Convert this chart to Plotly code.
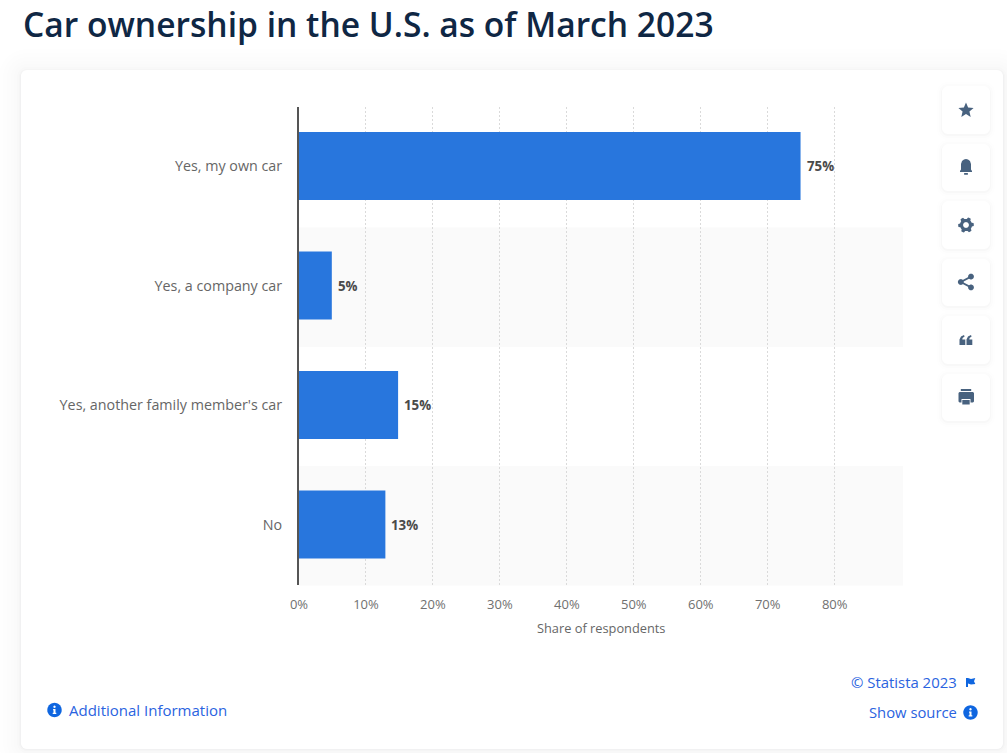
import math
import plotly.graph_objects as go

categories = ["Yes, my own car", "Yes, a company car", "Yes, another family member's car", "No"]
values = [74.9, 4.9, 14.8, 12.9]
value_labels = ["75%", "5%", "15%", "13%"]
tick_values = [0, 10, 20, 30, 40, 50, 60, 70, 80, 90.2]
tick_labels = ["0%", "10%", "20%", "30%", "40%", "50%", "60%", "70%", "80%", ""]

W, H = 1007, 753
L, R, T, B = 299, 903, 107, 585
FONT = "Open Sans"
ICON = "#48627f"
BLUE = "#0f66e0"
LINK = "#2a63e0"


def fx(x):
    return (x - L) / (R - L)


def fy(y):
    return (B - y) / (B - T)


def poly(pts):
    return "M" + " L".join(f"{fx(x):.5f},{fy(y):.5f}" for x, y in pts) + " Z"


def circle_pts(cx, cy, r, n=36):
    return [(cx + r * math.cos(2 * math.pi * i / n), cy + r * math.sin(2 * math.pi * i / n)) for i in range(n)]


def rrect_pts(x0, y0, x1, y1, r):
    pts = []
    corners = [(x1 - r, y0 + r, -90), (x1 - r, y1 - r, 0), (x0 + r, y1 - r, 90), (x0 + r, y0 + r, 180)]
    for cx, cy, a in corners:
        for k in range(7):
            t = math.radians(a + 15 * k)
            pts.append((cx + r * math.cos(t), cy + r * math.sin(t)))
    return pts


shapes = []


def add(path, color, opacity=1.0):
    shapes.append(dict(type="path", xref="paper", yref="paper", path=path, fillcolor=color, opacity=opacity,
                       layer="below", line=dict(width=0)))


def add_above(path, color):
    shapes.append(dict(type="path", xref="paper", yref="paper", path=path, fillcolor=color,
                       layer="above", line=dict(width=0)))


# card with soft shadow
for g, a in [(22, 0.006), (18, 0.006), (14, 0.007), (10, 0.008), (7, 0.009), (4, 0.010), (2, 0.014), (1, 0.02)]:
    add(poly(rrect_pts(21 - g, 70 - g + 1, 1003 + g, 749 + g, 6 + g)), "#44485a", a)
add(poly(rrect_pts(21, 70, 1003, 749, 6)), "#ffffff")

# alternating bands
for y0, y1 in [(227.5, 347), (466, 585.5)]:
    add(poly([(L, y0), (R, y0), (R, y1), (L, y1)]), "#fafafa")

# side buttons
buttons = [(86, 134), (144, 191), (201, 249), (259, 306), (316, 364), (374, 421)]
for y0, y1 in buttons:
    for g, a in [(5, 0.008), (3, 0.012), (1, 0.025)]:
        add(poly(rrect_pts(942 - g, y0 - g + 1, 990 + g, y1 + g + 1, 6 + g)), "#44485a", a)
    add(poly(rrect_pts(942, y0, 990, y1, 6)), "#ffffff")

# star
star = []
for i in range(10):
    r = 8 if i % 2 == 0 else 3.6
    t = math.radians(-90 + 36 * i)
    star.append((966 + r * math.cos(t), 110.5 + r * math.sin(t)))
add_above(poly(star), ICON)

# bell
bell = [(960, 172), (960, 171), (961, 169.5), (961, 164), (962, 161), (964, 159.5), (966, 159), (968, 159.5),
        (970, 161), (971, 164), (971, 169.5), (972, 171), (972, 172)]
add_above(poly(bell), ICON)
add_above(poly(rrect_pts(964, 173, 968, 174.8, 0.8)), ICON)

# gear
gear = []
for i in range(48):
    a = i / 48 * 2 * math.pi
    tooth = ((i + 2) % 8) < 4
    r = 7.8 if tooth else 6.1
    gear.append((966 + r * math.cos(a), 225 + r * math.sin(a)))
add_above(poly(gear) + " " + poly(circle_pts(966, 225, 2.9)), ICON)

# share
for c in [(960.8, 282), (971, 276.6), (971, 287.4)]:
    add_above(poly(circle_pts(c[0], c[1], 2.9)), ICON)
add_above(poly([(960.4, 281.2), (970.6, 275.8), (971.4, 277.4), (961.2, 282.8)]), ICON)
add_above(poly([(961.2, 281.2), (971.4, 286.6), (970.6, 288.2), (960.4, 282.8)]), ICON)

# quotes
for dx in (0, 7):
    add_above(poly([(959.5 + dx, 345), (959.5 + dx, 339.5), (961 + dx, 336.5), (964 + dx, 335),
                    (964.6 + dx, 336.6), (962.6 + dx, 338), (962.3 + dx, 339.6), (965.3 + dx, 339.6),
                    (965.3 + dx, 345)]), ICON)

# printer
add_above(poly(rrect_pts(958.5, 392, 974, 402.5, 1.5)) + " " +
          poly([(961.5, 399), (970.5, 399), (970.5, 402.5), (961.5, 402.5)]), ICON)
add_above(poly([(960.8, 391), (960.8, 389), (971.2, 389), (971.2, 391)]), ICON)
add_above(poly([(962.3, 400), (969.7, 400), (969.7, 404.5), (962.3, 404.5)]), ICON)

# info icons and flag
for cx, cy in [(54.5, 710), (970.5, 712.5)]:
    add_above(poly(circle_pts(cx, cy, 7.2)), BLUE)
    add_above(poly(circle_pts(cx, cy - 3.2, 1.2, 12)), "#ffffff")
    add_above(poly([(cx - 1.4, cy - 1), (cx + 1, cy - 1), (cx + 1, cy + 2.8), (cx + 1.8, cy + 2.8), (cx + 1.8, cy + 4),
                    (cx - 1.8, cy + 4), (cx - 1.8, cy + 2.8), (cx - 1, cy + 2.8), (cx - 1, cy + 0.2), (cx - 1.4, cy + 0.2)]),
              "#ffffff")
add_above(poly([(966, 678), (968, 678), (971, 679), (975.3, 678), (974, 681.3), (975.3, 684), (971, 684.6),
                (968, 683.6), (968, 687), (966, 687)]), BLUE)


def note(text, x, y, size, color, anchor="left", weight=400):
    return dict(text=text, xref="paper", yref="paper", x=fx(x), y=fy(y), xanchor=anchor, yanchor="middle",
                showarrow=False, font=dict(family=FONT, size=size, color=color, weight=weight))


annotations = [
    note("Car ownership in the U.S. as of March 2023", 21, 24, 33.6, "#0f2744", weight=600),
    note("Additional Information", 67, 710, 15, LINK),
    note("© Statista 2023", 959, 682, 14.9, LINK, anchor="right"),
    note("Show source", 959, 711.5, 14.8, LINK, anchor="right"),
    note("Share of respondents", 600.5, 627.5, 12.8, "#666666", anchor="center"),
]
for cat, val, lab in zip(categories, values, value_labels):
    annotations.append(dict(text=lab, x=val, y=cat, xref="x", yref="y", xanchor="left", yanchor="middle",
                            xshift=4, yshift=0, showarrow=False,
                            font=dict(family=FONT, size=13.3, color="#4a4a4a", weight=700)))

fig = go.Figure(go.Bar(
    x=values, y=categories, orientation="h",
    marker=dict(color="#2876dd", line=dict(width=0)),
    hoverinfo="skip",
))

fig.update_layout(
    width=W, height=H, autosize=False,
    margin=dict(l=L, r=W - R, t=T, b=H - B, pad=0),
    paper_bgcolor="#ffffff", plot_bgcolor="rgba(0,0,0,0)",
    bargap=0.43, showlegend=False, shapes=shapes, annotations=annotations,
    font=dict(family=FONT),
    xaxis=dict(range=[0, 90.2], tickmode="array", tickvals=tick_values, ticktext=tick_labels,
               showgrid=True, gridcolor="#dadada", griddash="2px,2px", gridwidth=1, zeroline=False,
               showline=False, ticks="outside", ticklen=7, tickcolor="rgba(0,0,0,0)",
               tickfont=dict(family=FONT, size=13, color="#707070")),
    yaxis=dict(range=[3.5063, -0.4937], categoryorder="array", categoryarray=categories,
               showgrid=False, zeroline=False, showline=True, linecolor="#555555", linewidth=2,
               ticks="outside", ticklen=12, tickcolor="rgba(0,0,0,0)",
               tickfont=dict(family=FONT, size=14.3, color="#666666")),
)

fig.write_html("out.html", config=dict(displayModeBar=False),
               post_script="document.body.style.margin='0';")
